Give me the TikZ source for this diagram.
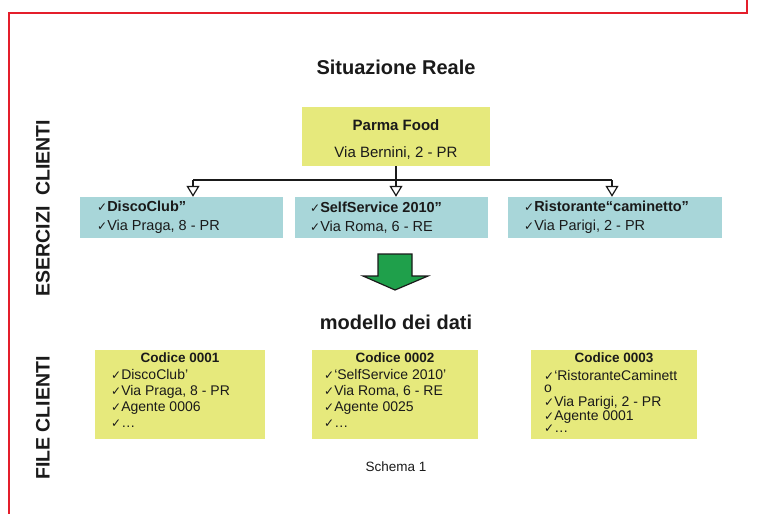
\documentclass[tikz,border=0pt]{standalone}
\usepackage{fontspec}
\setmainfont{Liberation Sans}
\newfontfamily\symfont{DejaVu Sans}
\usetikzlibrary{arrows.meta}
\definecolor{boxyellow}{HTML}{E6E97C}
\definecolor{boxcyan}{HTML}{A8D6D9}
\definecolor{framered}{HTML}{E41E2B}
\definecolor{arrowgreen}{HTML}{1FA04B}
\definecolor{ink}{HTML}{1A1A1A}
\newcommand{\ck}{{\symfont\fontsize{12}{12}\selectfont ✓}}
\begin{document}
\begin{tikzpicture}[x=1pt,y=-1pt,
  txt/.style={inner sep=0pt, text=ink},
  yellowbox/.style={fill=boxyellow, inner sep=0pt},
  cyanbox/.style={fill=boxcyan, inner sep=0pt, minimum height=41pt},
  filebox/.style={fill=boxyellow, inner sep=0pt, minimum height=89pt},
  heading/.style={txt, font=\bfseries\fontsize{20}{22}\selectfont},
  sidelabel/.style={txt, rotate=90, font=\bfseries\fontsize{19.5}{22}\selectfont},
  clientlist/.style={txt, anchor=west, align=left, font=\fontsize{14.5}{19}\selectfont},
  filetitle/.style={txt, font=\bfseries\fontsize{13.5}{15}\selectfont},
  filelist/.style={txt, anchor=north west, align=left, font=\fontsize{14}{16}\selectfont},
  bus/.style={draw=ink, line width=1.6pt},
  drop/.style={draw=ink, line width=1.2pt,
    -{Triangle[open, length=11pt, width=13pt, line width=1.2pt]}},
]
\useasboundingbox (0,0) rectangle (758,514);

% red page frame
\draw[framered, line width=2pt] (747,0) -- (747,13) -- (9,13) -- (9,514);

% side labels
\node[sidelabel] (lblclienti) at (43,208) {ESERCIZI\ \ CLIENTI};
\node[sidelabel] (lblfile) at (43,418) {FILE CLIENTI};

% real situation
\node[heading] (realtitle) at (396,67) {Situazione Reale};

\node[yellowbox, minimum width=188pt, minimum height=59pt] (parma) at (396,136.5) {};
\node[txt, font=\bfseries\fontsize{15}{17}\selectfont] (parmaname) at (396,125) {Parma Food};
\node[txt, font=\fontsize{15}{17}\selectfont] (parmaaddr) at (396,153) {Via Bernini, 2 - PR};

\node[cyanbox, minimum width=203pt] (c1) at (181.5,217.5) {};
\node[cyanbox, minimum width=193pt] (c2) at (391.5,217.5) {};
\node[cyanbox, minimum width=214pt] (c3) at (615,217.5) {};

\node[clientlist] (c1t) at (97,217.5) {\ck\textbf{DiscoClub”}\\\ck Via Praga, 8 - PR};
\node[clientlist] (c2t) at (310,217.5) {\ck\textbf{SelfService 2010”}\\\ck Via Roma, 6 - RE};
\node[clientlist] (c3t) at (524,217.5) {\ck\textbf{Ristorante“caminetto”}\\\ck Via Parigi, 2 - PR};

% distribution line from Parma Food to the three clients
\coordinate (busL) at (193,180);
\coordinate (busR) at (612,180);
\coordinate (busM) at (parma.south |- busL);
\draw[bus] (parma.south) -- (busM);
\draw[bus] (busL) -- (busR);
\draw[drop] (busL) -- (busL |- c1.north);
\draw[drop] (busM) -- (busM |- c2.north);
\draw[drop] (busR) -- (busR |- c3.north);

% block arrow towards the data model
\draw[fill=arrowgreen, draw=ink, line width=1.2pt, line join=miter]
  (378,254) -- (412,254) -- (412,276) -- (428,276) -- (395,290)
  -- (363,276) -- (378,276) -- cycle;

\node[heading] (modeltitle) at (396,322) {modello dei dati};

% client files
\node[filebox, minimum width=170pt] (b1) at (180,394.5) {};
\node[filebox, minimum width=166pt] (b2) at (395,394.5) {};
\node[filebox, minimum width=166pt] (b3) at (614,394.5) {};

\node[filetitle] (b1h) at (b1.center |- 0,358) {Codice 0001};
\node[filetitle] (b2h) at (b2.center |- 0,358) {Codice 0002};
\node[filetitle] (b3h) at (b3.center |- 0,358) {Codice 0003};

\node[filelist] (b1t) at (111,369) {\ck DiscoClub’\\\ck Via Praga, 8 - PR\\\ck Agente 0006\\\ck …};
\node[filelist] (b2t) at (324,369) {\ck ‘SelfService 2010’\\\ck Via Roma, 6 - RE\\\ck Agente 0025\\\ck …};
\node[filelist, font=\fontsize{14}{12.5}\selectfont] (b3t) at (544,370)
  {\ck ‘RistoranteCaminett\\o\\[1pt]\ck Via Parigi, 2 - PR\\\ck Agente 0001\\\ck …};

\node[txt, font=\fontsize{13.5}{15}\selectfont] (caption) at (396,467) {Schema 1};
\end{tikzpicture}
\end{document}
